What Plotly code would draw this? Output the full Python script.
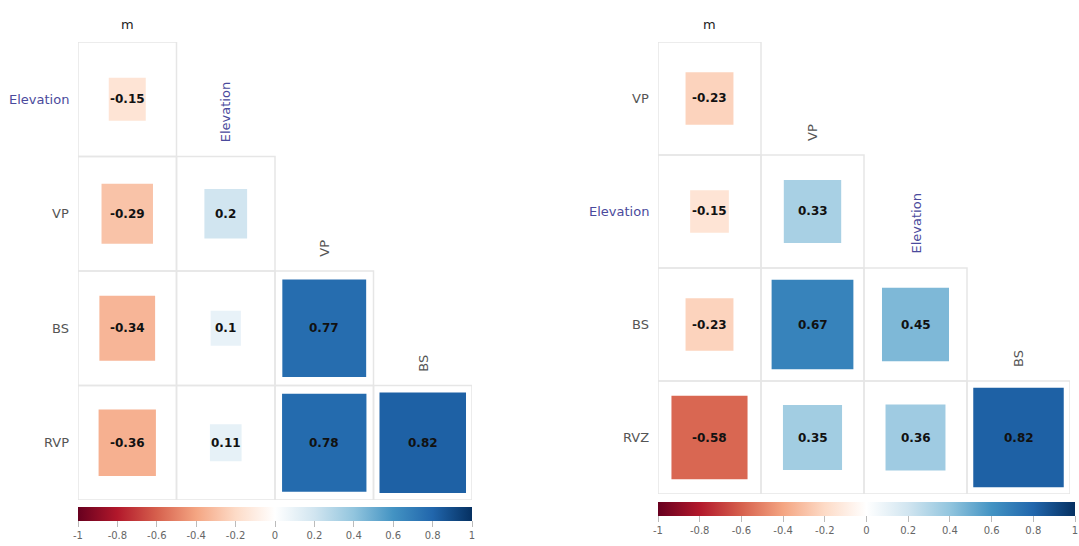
import numpy as np
import plotly.graph_objects as go
from plotly.colors import sample_colorscale

# ---------------- data ----------------
left_rows = ["Elevation", "VP", "BS", "RVP"]
left_cols = ["m", "Elevation", "VP", "BS"]
left_vals = [
    [-0.15],
    [-0.29, 0.2],
    [-0.34, 0.1, 0.77],
    [-0.36, 0.11, 0.78, 0.82],
]

right_rows = ["VP", "Elevation", "BS", "RVZ"]
right_cols = ["m", "VP", "Elevation", "BS"]
right_vals = [
    [-0.23],
    [-0.15, 0.33],
    [-0.23, 0.67, 0.45],
    [-0.58, 0.35, 0.36, 0.82],
]

cbar_ticks = [-1, -0.8, -0.6, -0.4, -0.2, 0, 0.2, 0.4, 0.6, 0.8, 1]
cbar_text = ["-1", "-0.8", "-0.6", "-0.4", "-0.2", "0", "0.2", "0.4", "0.6", "0.8", "1"]

# ---------------- style ----------------
RDBU = ['#67001F', '#B2182B', '#D6604D', '#F4A582', '#FDDBC7', '#FFFFFF',
        '#D1E5F0', '#92C5DE', '#4393C3', '#2166AC', '#053061']
SCALE = [[i / (len(RDBU) - 1), c] for i, c in enumerate(RDBU)]
FONT = "DejaVu Sans, Verdana, sans-serif"
LABEL_GRAY = "#555555"
LABEL_BLUE = "#4a4a9c"
GRID = "#e6e6e6"
SIZE_F = 0.97

W, H = 1079, 546


def color_of(v):
    return sample_colorscale(SCALE, [(v + 1) / 2])[0]


fig = go.Figure()
shapes = []
annotations = []

panels = [
    dict(rows=left_rows, cols=left_cols, vals=left_vals, xa="x", ya="y",
         xdom=[78 / W, 472 / W], ydom=[(H - 500) / H, (H - 42) / H],
         cb_x=(78 + 472) / 2 / W, cb_len=394, cb_y=(H - 507) / H, cax="coloraxis"),
    dict(rows=right_rows, cols=right_cols, vals=right_vals, xa="x2", ya="y2",
         xdom=[658 / W, 1070 / W], ydom=[(H - 494) / H, (H - 42) / H],
         cb_x=(658 + 1075) / 2 / W, cb_len=417, cb_y=(H - 502) / H, cax="coloraxis2"),
]

layout_axes = {}
for k, p in enumerate(panels):
    n = len(p["rows"])
    sfx = "" if k == 0 else str(k + 1)
    layout_axes["xaxis" + sfx] = dict(domain=p["xdom"], range=[-0.5, n - 0.5], visible=False,
                                      fixedrange=True, anchor="y" + sfx)
    layout_axes["yaxis" + sfx] = dict(domain=p["ydom"], range=[n - 0.5, -0.5], visible=False,
                                      fixedrange=True, anchor="x" + sfx)
    for i, row in enumerate(p["vals"]):
        for j, v in enumerate(row):
            # cell border
            shapes.append(dict(type="rect", xref=p["xa"], yref=p["ya"],
                               x0=j - 0.5, x1=j + 0.5, y0=i - 0.5, y1=i + 0.5,
                               line=dict(color=GRID, width=1.5), fillcolor="rgba(0,0,0,0)",
                               layer="below"))
            h = 0.5 * np.sqrt(abs(v)) * SIZE_F
            shapes.append(dict(type="rect", xref=p["xa"], yref=p["ya"],
                               x0=j - h, x1=j + h, y0=i - h, y1=i + h,
                               line=dict(width=0), fillcolor=color_of(v), layer="above"))
            annotations.append(dict(xref=p["xa"], yref=p["ya"], x=j, y=i, text=f"<b>{v:g}</b>",
                                    showarrow=False, font=dict(family=FONT, size=12, color="#111111")))
    # row labels
    for i, lab in enumerate(p["rows"]):
        col = LABEL_BLUE if lab == "Elevation" else LABEL_GRAY
        annotations.append(dict(xref=p["xa"] + " domain", yref=p["ya"], x=0, y=i, text=lab,
                                xanchor="right", xshift=-7, showarrow=False,
                                font=dict(family=FONT, size=13, color=col)))
    # column labels (rotated, sitting on the diagonal)
    for j, lab in enumerate(p["cols"]):
        col = LABEL_BLUE if lab == "Elevation" else LABEL_GRAY
        if lab == "m":
            annotations.append(dict(xref=p["xa"], yref=p["ya"], x=j, y=j - 0.5, text=lab,
                                    yanchor="bottom", yshift=8, showarrow=False,
                                    font=dict(family=FONT, size=13, color="#222222")))
        else:
            annotations.append(dict(xref=p["xa"], yref=p["ya"], x=j, y=j - 0.5, text=lab,
                                    textangle=-90, yanchor="bottom", yshift=12, showarrow=False,
                                    font=dict(family=FONT, size=13, color=col)))
    # colour bar carrier
    fig.add_trace(go.Scatter(x=[None], y=[None], xaxis=p["xa"], yaxis=p["ya"], mode="markers",
                             marker=dict(color=[0], coloraxis=p["cax"]), showlegend=False,
                             hoverinfo="skip"))
    layout_axes[p["cax"]] = dict(
        colorscale=SCALE, cmin=-1, cmax=1,
        colorbar=dict(orientation="h", x=p["cb_x"], xanchor="center", y=p["cb_y"], yanchor="top",
                      lenmode="pixels", len=p["cb_len"], thicknessmode="pixels", thickness=14,
                      outlinewidth=0, ypad=0, xpad=0, tickvals=cbar_ticks, ticktext=cbar_text,
                      ticks="outside", ticklen=6, tickcolor="#bbbbbb",
                      tickfont=dict(family=FONT, size=10, color="#666666")))

fig.update_layout(width=W, height=H, margin=dict(l=0, r=0, t=0, b=0),
                  paper_bgcolor="white", plot_bgcolor="white",
                  shapes=shapes, annotations=annotations, **layout_axes)
fig.write_html("out.html")
